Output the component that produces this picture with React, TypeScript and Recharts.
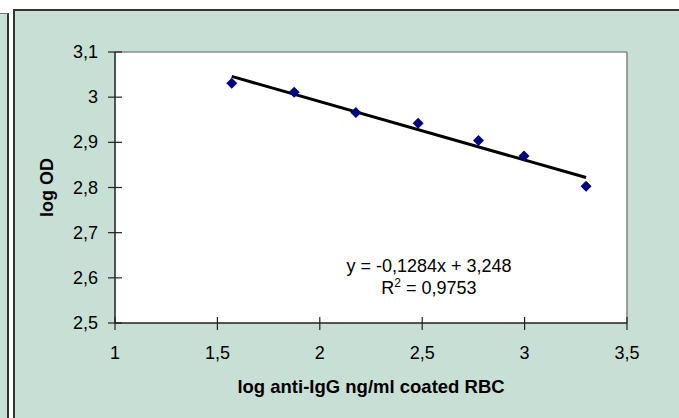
import React from 'react';
import {
    ScatterChart, Scatter, XAxis, YAxis, CartesianGrid, ReferenceLine, ReferenceDot, Label
} from 'recharts';

// measured points (log concentration vs log OD)
const logConc = [1.57, 1.875, 2.176, 2.48, 2.775, 2.997, 3.3];
const logOD = [3.031, 3.011, 2.966, 2.942, 2.904, 2.87, 2.803];

// linear trend line end points
const trendX = [1.57, 3.3];
const trendY = [3.046, 2.822];

const xTicks = [1, 1.5, 2, 2.5, 3, 3.5];
const yTicks = [2.5, 2.6, 2.7, 2.8, 2.9, 3, 3.1];

const equationText = 'y = -0,1284x + 3,248';
const r2Value = ' = 0,9753';
const equationAnchor = { x: 2.533, y: 2.612 };

const points = logConc.map((x, i) => ({ x, y: logOD[i] }));
const trend = trendX.map((x, i) => ({ x, y: trendY[i] }));

const FONT = '"Liberation Sans", Arial, sans-serif';
const PANEL = '#c8dfd6';

const fmt = (v: number) => String(v).replace('.', ',');

const XTick = ({ x, y, payload }: any) => (
    <g>
        <line x1={x} x2={x} y1={y - 6} y2={y + 7} stroke="#222" strokeWidth={1.2} />
        <text x={x} y={y + 36} textAnchor="middle" fontSize={18} fontFamily={FONT} fill="#000">
            {fmt(payload.value)}
        </text>
    </g>
);

const YTick = ({ x, y, payload }: any) => (
    <g>
        <line x1={x - 7} x2={x + 7} y1={y} y2={y} stroke="#222" strokeWidth={1.2} />
        <text x={x - 17} y={y + 6} textAnchor="end" fontSize={18} fontFamily={FONT} fill="#000">
            {fmt(payload.value)}
        </text>
    </g>
);

const Diamond = ({ cx, cy }: any) => {
    const s = 5.5;
    return (
        <polygon
            points={`${cx},${cy - s} ${cx + s},${cy} ${cx},${cy + s} ${cx - s},${cy}`}
            fill="#000080"
        />
    );
};

const NoDot = () => <g />;

const EquationLabel = ({ viewBox }: any) => {
    const cx = viewBox.x + viewBox.width / 2;
    const cy = viewBox.y + viewBox.height / 2;
    return (
        <g fontFamily={FONT} fontSize={18} fill="#000">
            <text x={cx} y={cy} textAnchor="middle">{equationText}</text>
            <text x={cx} y={cy + 21.5} textAnchor="middle">
                R<tspan fontSize={12} dy={-7}>2</tspan><tspan dy={7}>{r2Value}</tspan>
            </text>
        </g>
    );
};

const XTitle = ({ viewBox }: any) => (
    <text
        x={viewBox.x + viewBox.width / 2}
        y={393}
        textAnchor="middle"
        fontSize={18.5}
        fontWeight="bold"
        fontFamily={FONT}
        fill="#000"
    >
        log anti-IgG ng/ml coated RBC
    </text>
);

const YTitle = ({ viewBox }: any) => {
    const cy = viewBox.y + viewBox.height / 2;
    return (
        <text
            x={47}
            y={cy}
            transform={`rotate(-90, 47, ${cy})`}
            textAnchor="middle"
            dominantBaseline="central"
            fontSize={18}
            fontWeight="bold"
            fontFamily={FONT}
            fill="#000"
        >
            log OD
        </text>
    );
};

const App: React.FC = () => {
    return (
        <div style={{ position: 'absolute', left: 0, top: 0, width: 679, height: 418, overflow: 'hidden', background: '#fff' }}>
            {/* left fragment of neighbouring chart */}
            <div style={{
                position: 'absolute', left: 0, top: 13, width: 7, height: 420,
                background: PANEL, borderRight: '2px solid #333', borderTop: '1px solid #777'
            }} />
            {/* chart panel */}
            <div style={{
                position: 'absolute', left: 13, top: 9, width: 700, height: 420,
                background: PANEL, borderLeft: '2px solid #333', borderTop: '2px solid #333'
            }} />
            <div style={{ position: 'absolute', left: 0, top: 0 }}>
                <ScatterChart width={679} height={418} margin={{ top: 52, right: 52, bottom: 45, left: 55 }}>
                    <CartesianGrid horizontal={false} vertical={false} fill="#fff" />
                    <XAxis
                        dataKey="x"
                        type="number"
                        domain={[1, 3.5]}
                        ticks={xTicks}
                        height={50}
                        tickSize={0}
                        tickMargin={0}
                        tick={<XTick />}
                        axisLine={{ stroke: '#222', strokeWidth: 1.5 }}
                        allowDataOverflow
                    >
                        <Label content={<XTitle />} />
                    </XAxis>
                    <YAxis
                        dataKey="y"
                        type="number"
                        domain={[2.5, 3.1]}
                        ticks={yTicks}
                        width={60}
                        tickSize={0}
                        tickMargin={0}
                        tick={<YTick />}
                        axisLine={{ stroke: '#222', strokeWidth: 1.5 }}
                        allowDataOverflow
                    >
                        <Label content={<YTitle />} />
                    </YAxis>
                    <ReferenceLine y={3.1} stroke="#888" strokeWidth={1.6} />
                    <ReferenceLine x={3.5} stroke="#888" strokeWidth={1.6} />
                    <Scatter
                        data={trend}
                        line={{ stroke: '#000', strokeWidth: 3 }}
                        shape={<NoDot />}
                        isAnimationActive={false}
                    />
                    <Scatter data={points} shape={<Diamond />} isAnimationActive={false} />
                    <ReferenceDot
                        x={equationAnchor.x}
                        y={equationAnchor.y}
                        r={0}
                        fill="none"
                        stroke="none"
                        label={<EquationLabel />}
                    />
                </ScatterChart>
            </div>
        </div>
    );
};

export default App;
